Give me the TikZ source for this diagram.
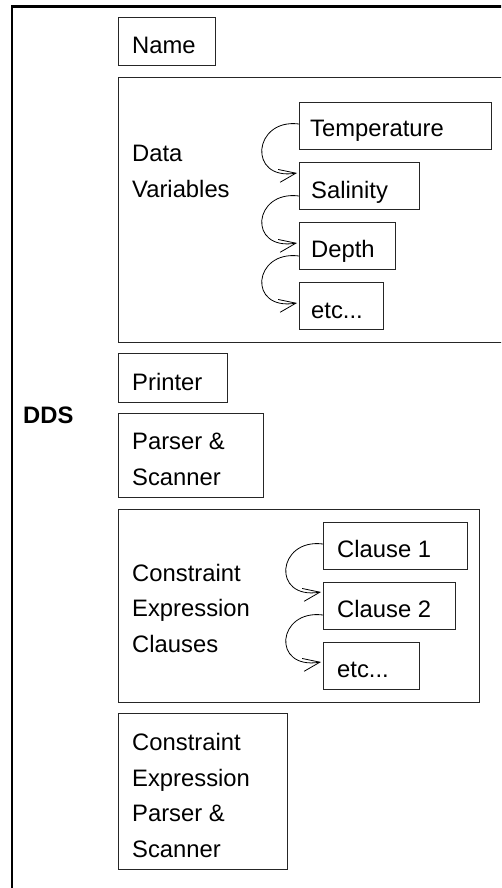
\documentclass[tikz,border=0pt]{standalone}
\usepackage{fontspec}
\setmainfont{Liberation Sans}
\usetikzlibrary{arrows.meta,calc}
\begin{document}
\begin{tikzpicture}[x=1pt,y=-1pt,
  frame/.style={draw=black, line width=2.5pt, inner sep=0pt, anchor=north west},
  box/.style={draw=black!85, line width=1pt, inner sep=0pt, anchor=north west},
  % labels are placed by the baseline of their last line
  txt/.style={inner sep=0pt, anchor=base west, align=left,
              font=\fontsize{23.8}{35.5}\selectfont},
  link/.style={line width=0.8pt, -{Straight Barb[length=17pt,width=13pt]}}]
\useasboundingbox (0,0) rectangle (501,888);
\clip (0,0) rectangle (501,888);

% outer DDS frame (runs off the right and bottom edges)
\node[frame, minimum width=530pt, minimum height=900pt] (dds) at (10.7,5.3) {};
\node[txt, font=\fontsize{23.8}{35.5}\selectfont\bfseries] (ddsT) at (23,423) {DDS};

% component boxes
\node[box, minimum width=97pt,  minimum height=48pt]  (name)    at (118,17)  {};
\node[box, minimum width=410pt, minimum height=265pt] (vars)    at (118,77)  {};
\node[box, minimum width=192pt, minimum height=47pt]  (temp)    at (299,102) {};
\node[box, minimum width=120pt, minimum height=47pt]  (sal)     at (299,162) {};
\node[box, minimum width=96pt,  minimum height=47pt]  (depth)   at (299,222) {};
\node[box, minimum width=84pt,  minimum height=47pt]  (etcA)    at (299,282) {};
\node[box, minimum width=109pt, minimum height=49pt]  (printer) at (118,353) {};
\node[box, minimum width=145pt, minimum height=84pt]  (parser)  at (118,413) {};
\node[box, minimum width=361pt, minimum height=193pt] (clauses) at (118,509) {};
\node[box, minimum width=144pt, minimum height=47pt]  (clA)     at (323,522) {};
\node[box, minimum width=132pt, minimum height=47pt]  (clB)     at (323,582) {};
\node[box, minimum width=96pt,  minimum height=47pt]  (etcB)    at (323,642) {};
\node[box, minimum width=169pt, minimum height=156pt] (ceps)    at (118,713) {};

% labels
\node[txt] (nameT)    at (132,54)  {Name};
\node[txt] (varsT)    at (132,197) {Data\\Variables};
\node[txt] (tempT)    at (310,136) {Temperature};
\node[txt] (salT)     at (311,198) {Salinity};
\node[txt] (depthT)   at (311,257) {Depth};
\node[txt] (etcAT)    at (311,318) {etc...};
\node[txt] (printerT) at (132,390) {Printer};
\node[txt] (parserT)  at (132,485) {Parser \&\\Scanner};
\node[txt] (clausesT) at (132,652) {Constraint\\Expression\\Clauses};
\node[txt] (clAT)     at (337,557) {Clause 1};
\node[txt] (clBT)     at (337,617) {Clause 2};
\node[txt] (etcBT)    at (337,677) {etc...};
\node[txt] (cepsT)    at (132,857) {Constraint\\Expression\\Parser \&\\Scanner};

% chaining arrows
\draw[link] ($(temp.north west)+(0,22)$)  .. controls +(-46,-6) and +(-50,8) .. ($(sal.north west)+(-2,11)$);
\draw[link] ($(sal.north west)+(0,34)$)   .. controls +(-46,-6) and +(-50,8) .. ($(depth.north west)+(-2,21)$);
\draw[link] ($(depth.north west)+(0,34)$) .. controls +(-46,-6) and +(-50,8) .. ($(etcA.north west)+(-2,21)$);
\draw[link] ($(clA.north west)+(0,22)$)   .. controls +(-46,-6) and +(-50,8) .. ($(clB.north west)+(-2,10)$);
\draw[link] ($(clB.north west)+(0,33)$)   .. controls +(-46,-6) and +(-50,8) .. ($(etcB.north west)+(-2,20)$);
\end{tikzpicture}
\end{document}
